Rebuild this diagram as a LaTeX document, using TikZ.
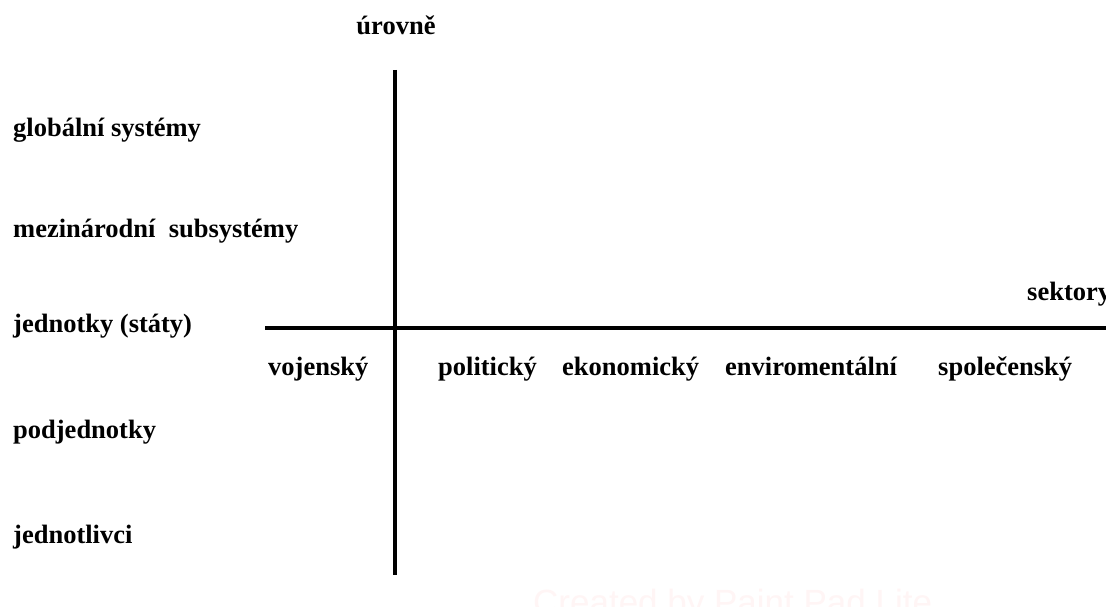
\documentclass[tikz,border=0pt]{standalone}
\usepackage{fontspec}
\setmainfont{Liberation Serif}
\newfontfamily\wmfont{Liberation Sans}
\usepackage{tikz}
\usetikzlibrary{positioning}

\tikzset{
	lbl/.style={inner sep=0pt, anchor=base west, font=\fontsize{26.5}{30}\selectfont\bfseries},
	axisline/.style={line width=4.5pt, black},
}

\begin{document}
\begin{tikzpicture}[x=1pt, y=-1pt]
	% Page frame:
	\fill[white] (0, 0) rectangle (1106, 607);
	\useasboundingbox (0, 0) rectangle (1106, 607);
	% Watermark:
	\node[inner sep=0pt, anchor=base west, text=red!4, font=\wmfont\fontsize{35}{40}\selectfont](wmark) at (533, 614){Created by Paint Pad Lite};
	% Axes:
	\coordinate (vtop) at (395, 70);
	\coordinate (vbot) at (395, 575);
	\coordinate (hleft) at (265, 328);
	\coordinate (hright) at (1110, 328);
	\draw[axisline] (vtop) -- (vbot);
	\draw[axisline] (hleft) -- (hright);
	% Axis titles:
	\node[lbl, anchor=base](urovne) at (396, 35){úrovně};
	\node[lbl](sektory) at (1027, 300){sektory};
	% Levels:
	\node[lbl](lvlglobal) at (13, 137){globální systémy};
	\node[lbl](lvlintl) at (13, 237){mezinárodní~ subsystémy};
	\node[lbl](lvlunits) at (13, 332){jednotky (státy)};
	\node[lbl](lvlsub) at (13, 438){podjednotky};
	\node[lbl](lvlind) at (13, 543){jednotlivci};
	% Sectors:
	\node[lbl](secvoj) at (268, 375){vojenský};
	\node[lbl](secpol) at (438, 375){politický};
	\node[lbl](seceko) at (562, 375){ekonomický};
	\node[lbl](secenv) at (725, 375){enviromentální};
	\node[lbl](secspol) at (938, 375){společenský};
\end{tikzpicture}
\end{document}
